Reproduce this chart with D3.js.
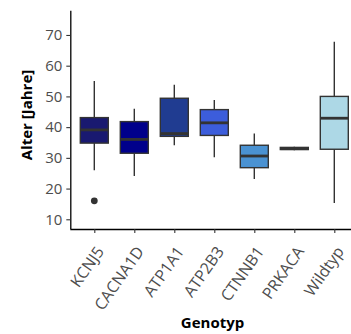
<!DOCTYPE html>
<html>
<head>
<meta charset="utf-8">
<script src="https://cdn.jsdelivr.net/npm/d3@7"></script>
<style>
  html, body { margin: 0; padding: 0; background: #fff; }
  svg { display: block; }
</style>
</head>
<body>
<svg id="chart" width="351" height="334"></svg>
<script>
// Age distribution per genotype (box summaries)
const genotypes = ["KCNJ5", "CACNA1D", "ATP1A1", "ATP2B3", "CTNNB1", "PRKACA", "Wildtyp"];
const lowerWhisker = [26.0, 24.1, 34.1, 30.2, 23.1, 32.5, 15.3];
const q1           = [34.8, 31.5, 37.0, 37.3, 26.8, 32.7, 32.8];
const medians      = [39.1, 36.0, 37.9, 41.4, 30.6, 33.0, 42.9];
const q3           = [43.1, 41.8, 49.4, 45.7, 34.1, 33.4, 50.0];
const upperWhisker = [55.0, 46.0, 53.8, 48.8, 37.9, 33.6, 67.8];
const outliers     = [[16.0], [], [], [], [], [], []];
const fills = ["#191970", "#00008b", "#203c91", "#3c5ddb", "#4a92d2", "#4a92d2", "#add8e6"];
const yTicks = [10, 20, 30, 40, 50, 60, 70];

const svg = d3.select("#chart");
const font = "'Open Sans', 'Noto Sans', sans-serif";

const x = d3.scalePoint().domain(genotypes).range([70.3, 358.3]).padding(0.6);
const y = d3.scaleLinear().domain([6.84, 77.9]).range([229, 10.7]);
const boxW = 28;

// boxes
const g = svg.append("g");
genotypes.forEach((gname, i) => {
  const cx = x(gname);
  const grp = g.append("g");
  grp.append("line")
    .attr("x1", cx).attr("x2", cx)
    .attr("y1", y(upperWhisker[i])).attr("y2", y(q3[i]))
    .attr("stroke", "#333").attr("stroke-width", 1.4);
  grp.append("line")
    .attr("x1", cx).attr("x2", cx)
    .attr("y1", y(q1[i])).attr("y2", y(lowerWhisker[i]))
    .attr("stroke", "#333").attr("stroke-width", 1.4);
  grp.append("rect")
    .attr("x", cx - boxW / 2).attr("width", boxW)
    .attr("y", y(q3[i])).attr("height", y(q1[i]) - y(q3[i]))
    .attr("fill", fills[i]).attr("stroke", "#333").attr("stroke-width", 1.4);
  grp.append("line")
    .attr("x1", cx - boxW / 2).attr("x2", cx + boxW / 2)
    .attr("y1", y(medians[i])).attr("y2", y(medians[i]))
    .attr("stroke", "#333").attr("stroke-width", 2.8);
  outliers[i].forEach(v => {
    grp.append("circle").attr("cx", cx).attr("cy", y(v)).attr("r", 3.4).attr("fill", "#333");
  });
});

// y axis
const yAxis = svg.append("g").attr("transform", "translate(70.3,0)")
  .call(d3.axisLeft(y).tickValues(yTicks).tickSize(4).tickPadding(4));
yAxis.select(".domain").attr("stroke", "#000").attr("stroke-width", 1.3)
  .attr("d", `M0.5,${y.range()[1]}V${y.range()[0]}`);
yAxis.selectAll(".tick line").attr("stroke", "#333").attr("stroke-width", 1.1);
yAxis.selectAll(".tick text").attr("fill", "#4d4d4d").attr("font-size", 15)
  .attr("font-family", font);

// x axis
const xAxis = svg.append("g").attr("transform", "translate(0,229)")
  .call(d3.axisBottom(x).tickSize(4).tickPadding(3));
xAxis.select(".domain").attr("stroke", "#000").attr("stroke-width", 1.3)
  .attr("d", "M70.3,0.5H358.3");
xAxis.selectAll(".tick line").attr("stroke", "#333").attr("stroke-width", 1.1);
xAxis.selectAll(".tick text")
  .attr("fill", "#4d4d4d").attr("font-size", 16).attr("font-family", font)
  .attr("text-anchor", "end").attr("dy", null)
  .attr("transform", "translate(5,19) rotate(-55)")
  .attr("y", 0).attr("x", 0).attr("dominant-baseline", "central");

// axis titles
svg.append("text")
  .attr("transform", "translate(25.5,115) rotate(-90)")
  .attr("text-anchor", "middle").attr("dominant-baseline", "central")
  .attr("font-family", font).attr("font-weight", "bold").attr("font-size", 15)
  .attr("fill", "#000").text("Alter [Jahre]");
svg.append("text")
  .attr("x", 212.5).attr("y", 322)
  .attr("text-anchor", "middle").attr("dominant-baseline", "central")
  .attr("font-family", font).attr("font-weight", "bold").attr("font-size", 15)
  .attr("fill", "#000").text("Genotyp");
</script>
</body>
</html>
